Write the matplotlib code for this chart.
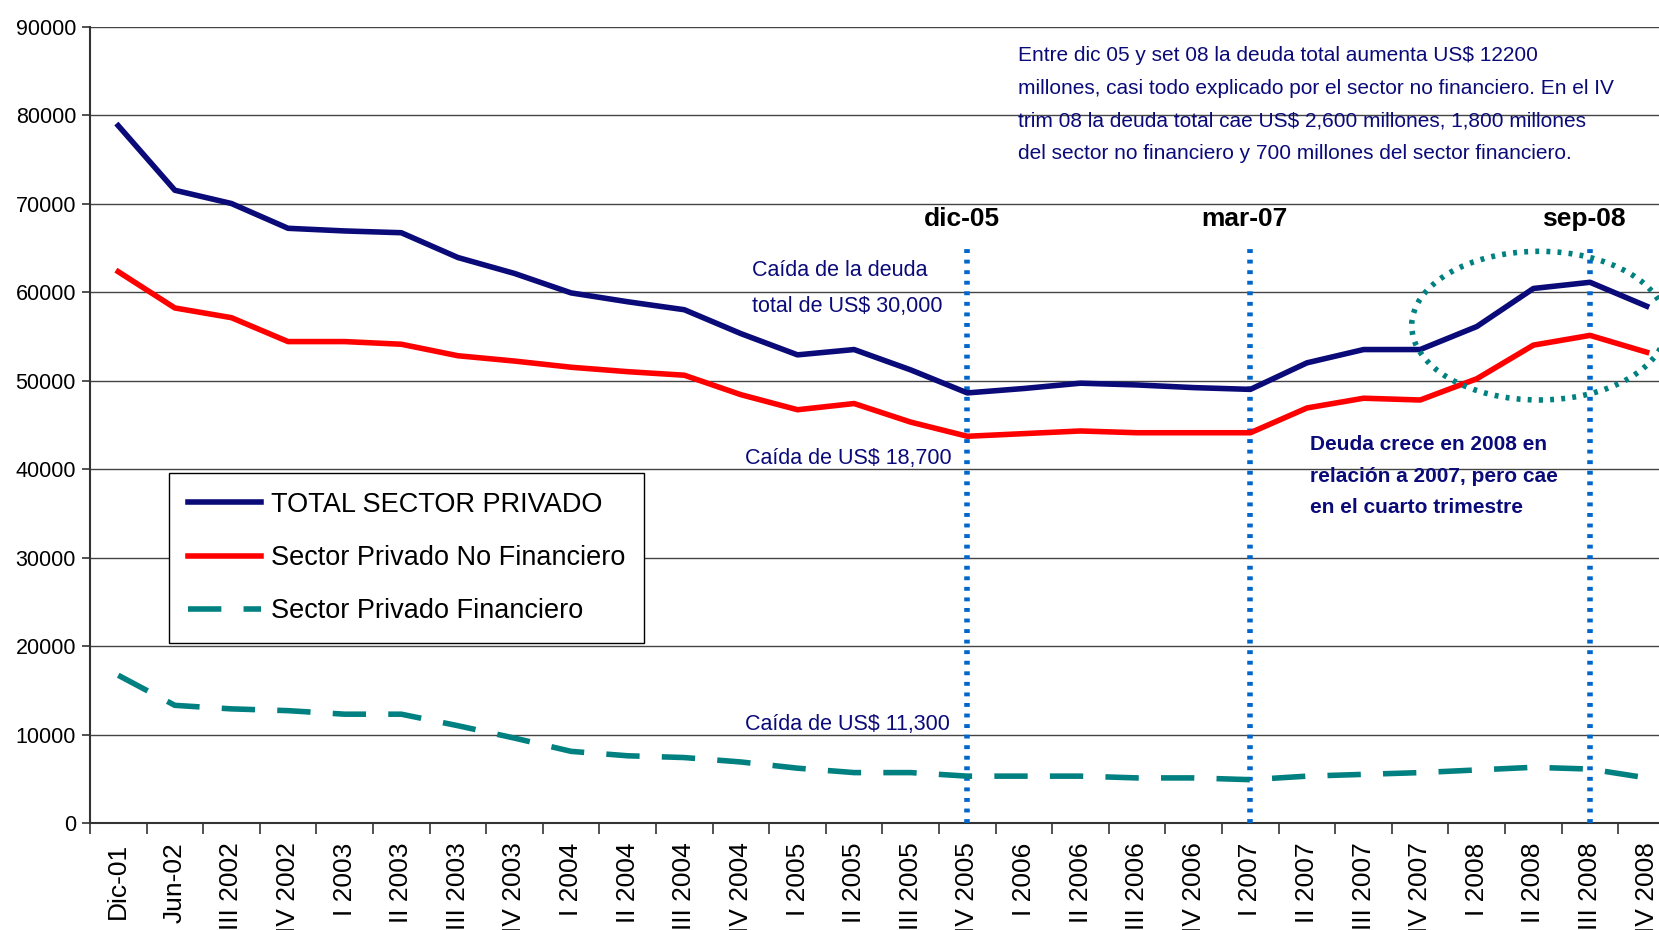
import matplotlib
matplotlib.use("Agg")
from matplotlib import pyplot as plt
from matplotlib.patches import Ellipse

# Categories (quarters)
categories = ['Dic-01', 'Jun-02', 'III 2002', 'IV 2002', 'I 2003', 'II 2003',
              'III 2003', 'IV 2003', 'I 2004', 'II 2004', 'III 2004', 'IV 2004',
              'I 2005', 'II 2005', 'III 2005', 'IV 2005', 'I 2006', 'II 2006',
              'III 2006', 'IV 2006', 'I 2007', 'II 2007', 'III 2007', 'IV 2007',
              'I 2008', 'II 2008', 'III 2008', 'IV 2008']

# Deuda externa privada, US$ millones (estimado del grafico)
total_privado = [78800, 71500, 70000, 67200, 66900, 66700, 63900, 62100,
                 59900, 58900, 58000, 55300, 52900, 53500, 51200, 48600,
                 49100, 49700, 49500, 49200, 49000, 52000, 53500, 53500,
                 56100, 60400, 61100, 58400]
no_financiero = [62300, 58200, 57100, 54400, 54400, 54100, 52800, 52200,
                 51500, 51000, 50600, 48400, 46700, 47400, 45300, 43700,
                 44000, 44300, 44100, 44100, 44100, 46900, 48000, 47800,
                 50200, 54000, 55100, 53200]
financiero = [16700, 13300, 12900, 12700, 12300, 12300, 11000, 9600,
              8100, 7600, 7400, 6900, 6200, 5700, 5700, 5300,
              5300, 5300, 5100, 5100, 4900, 5300, 5500, 5700,
              6000, 6300, 6100, 5100]

# Fechas marcadas con lineas verticales
marcas = ['IV 2005', 'I 2007', 'III 2008']
marcas_txt = ['dic-05', 'mar-07', 'sep-08']

navy = '#0a0a78'
plt.rcParams['font.family'] = ['Liberation Sans', 'DejaVu Sans']

fig = plt.figure(figsize=(16.59, 9.30), dpi=100)
ax = fig.add_axes([0.0542, 0.115, 0.9554, 0.8565])

x = list(range(len(categories)))
ax.plot(x, total_privado, color=navy, lw=4, label='TOTAL SECTOR PRIVADO', zorder=4)
ax.plot(x, no_financiero, color='#ff0000', lw=4, label='Sector Privado No Financiero',
        zorder=4)
ax.plot(x, financiero, color='#008080', lw=4, dashes=(6, 4), dash_capstyle='butt',
        label='Sector Privado Financiero', zorder=4)

# lineas verticales punteadas
for m, t in zip(marcas, marcas_txt):
    i = categories.index(m)
    ax.plot([i, i], [0, 65000], color='#0066cc', lw=4, linestyle=(0, (0.7, 1.2)),
            zorder=3)
    ax.text(i - 0.1, 68300, t, ha='center', va='center', fontsize=19,
            fontweight='bold', color='black')

# elipse
ax.add_patch(Ellipse((25.1, 56200), 4.5, 16800, fill=False, edgecolor='#008080',
                     lw=4, linestyle=(0, (0.7, 1.3)), zorder=5, clip_on=False))

# anotaciones
ax.text(15.9, 81200,
        'Entre dic 05 y set 08 la deuda total aumenta US$ 12200\n'
        'millones, casi todo explicado por el sector no financiero. En el IV\n'
        'trim 08 la deuda total cae US$ 2,600 millones, 1,800 millones\n'
        'del sector no financiero y 700 millones del sector financiero.',
        ha='left', va='center', fontsize=15, color=navy, linespacing=1.9)
ax.text(11.2, 60400, 'Caída de la deuda\ntotal de US$ 30,000', ha='left',
        va='center', fontsize=15.5, color=navy, linespacing=1.9)
ax.text(11.08, 41200, 'Caída de US$ 18,700', ha='left', va='center',
        fontsize=15.5, color=navy)
ax.text(11.08, 11100, 'Caída de US$ 11,300', ha='left', va='center',
        fontsize=15.5, color=navy)
ax.text(21.05, 39200, 'Deuda crece en 2008 en\nrelación a 2007, pero cae\n'
        'en el cuarto trimestre', ha='left', va='center', fontsize=15,
        fontweight='bold', color=navy, linespacing=1.85)

# ejes
ax.set_xlim(-0.5, len(categories) - 0.5)
ax.set_ylim(0, 90000)
ax.set_yticks(range(0, 90001, 10000))
ax.set_yticklabels([str(v) for v in range(0, 90001, 10000)], fontsize=15.5)
ax.set_xticks(x)
ax.set_xticklabels(categories, rotation=90, fontsize=19)
ax.set_xticks([i - 0.5 for i in range(len(categories) + 1)], minor=True)
ax.tick_params(axis='x', which='major', length=0, pad=14)
ax.tick_params(axis='x', which='minor', length=8, width=1.2, color='#333333')
ax.tick_params(axis='y', length=6, width=1.2, color='#333333', pad=4)
ax.grid(axis='y', color='#444444', lw=1)
ax.set_axisbelow(True)
for s in ['top', 'right']:
    ax.spines[s].set_visible(False)
ax.spines['left'].set_color('#333333')
ax.spines['left'].set_linewidth(1.5)
ax.spines['bottom'].set_color('#333333')
ax.spines['bottom'].set_linewidth(1.5)

leg = ax.legend(loc='lower left', bbox_to_anchor=(0.05, 0.226), fontsize=19.5,
                fancybox=False, edgecolor='black', framealpha=1,
                handlelength=2.7, handletextpad=0.35, borderpad=0.7,
                labelspacing=1.0, borderaxespad=0)
leg.get_frame().set_linewidth(1)

fig.savefig('out.png', dpi=100)
